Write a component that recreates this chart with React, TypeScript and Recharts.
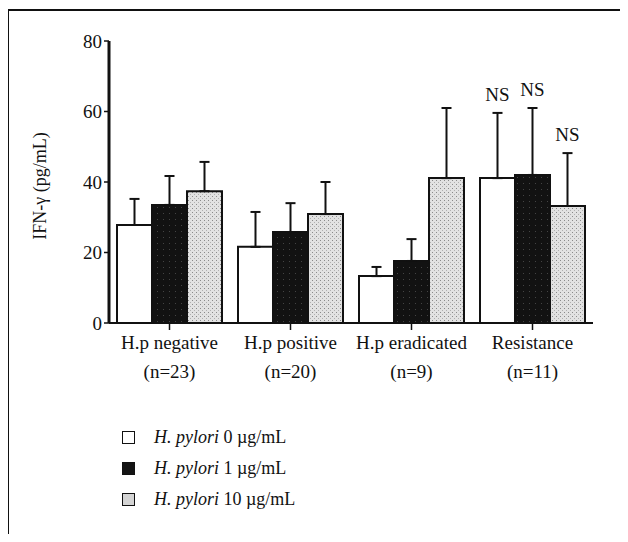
import { BarChart, Bar, XAxis, YAxis, ErrorBar, LabelList } from "recharts";

const groups = ["H.p negative", "H.p positive", "H.p eradicated", "Resistance"];
const nLabels = ["(n=23)", "(n=20)", "(n=9)", "(n=11)"];

const dose0 = [27.8, 21.6, 13.3, 41.1];
const dose0Err = [7.4, 9.9, 2.6, 18.5];
const dose1 = [33.5, 25.8, 17.6, 42.0];
const dose1Err = [8.2, 8.2, 6.2, 19.0];
const dose10 = [37.4, 30.9, 41.1, 33.2];
const dose10Err = [8.3, 9.1, 19.9, 15.0];
const nsFlags = [false, false, false, true];

const yTicks = [0, 20, 40, 60, 80];

const series = [
  { key: "d0", err: "e0", fill: "#ffffff", dose: "0", values: dose0, errs: dose0Err },
  { key: "d1", err: "e1", fill: "url(#stippleDark)", swatch: "#141414", dose: "1", values: dose1, errs: dose1Err },
  { key: "d10", err: "e10", fill: "url(#stippleLight)", swatch: "#d4d4d4", dose: "10", values: dose10, errs: dose10Err },
];

const data = groups.map((g, i) => ({
  group: g,
  d0: dose0[i],
  e0: [0, dose0Err[i]],
  d1: dose1[i],
  e1: [0, dose1Err[i]],
  d10: dose10[i],
  e10: [0, dose10Err[i]],
}));

const FONT = "'Liberation Serif', 'Times New Roman', serif";

const GroupTick = ({ x, y, payload }: any) => (
  <g>
    <text x={x} y={y} dy={17} textAnchor="middle" fontSize={19} fontFamily={FONT} fill="#111">
      {payload.value}
    </text>
    <text x={x} y={y} dy={46} textAnchor="middle" fontSize={19} fontFamily={FONT} fill="#111">
      {nLabels[payload.index]}
    </text>
  </g>
);

const nsLabel = (values: number[], errs: number[]) => (p: any) => {
  const i = p.index;
  if (!nsFlags[i]) return null;
  const pxPerUnit = p.height / values[i];
  const top = p.y - errs[i] * pxPerUnit;
  return (
    <text x={p.x + p.width / 2} y={top - 12} textAnchor="middle" fontSize={19} fontFamily={FONT} fill="#111">
      NS
    </text>
  );
};

const LegendBox = () => (
  <div style={{ fontFamily: FONT, fontSize: 18, color: "#111" }}>
    {series.map((s) => (
      <div key={s.key} style={{ display: "flex", alignItems: "center", height: 31 }}>
        <span
          style={{
            display: "inline-block",
            width: 11,
            height: 11,
            background: s.swatch ?? s.fill,
            border: "1.5px solid #111",
            marginRight: 19,
          }}
        />
        <span>
          <i>H. pylori</i> {s.dose} µg/mL
        </span>
      </div>
    ))}
  </div>
);

export default function App() {
  return (
    <div style={{ margin: -8, position: "relative", width: 628, height: 542, overflow: "hidden", background: "#fff" }}>
      <div
        style={{
          position: "absolute",
          left: 7,
          top: 9,
          width: 700,
          height: 600,
          borderLeft: "2px solid #111",
          borderTop: "2px solid #111",
        }}
      />
      <div style={{ position: "absolute", left: 0, top: 0 }}>
        <BarChart
          width={628}
          height={400}
          data={data}
          margin={{ top: 41, right: 35, left: 0, bottom: 0 }}
          barCategoryGap={8}
          barGap={0}
        >
          <defs>
            <pattern id="stippleLight" width="4" height="4" patternUnits="userSpaceOnUse">
              <rect width="4" height="4" fill="#e2e2e2" />
              <rect x="0" y="0" width="1" height="1" fill="#8a8a8a" />
              <rect x="2" y="2" width="1" height="1" fill="#b0b0b0" />
            </pattern>
            <pattern id="stippleDark" width="6" height="6" patternUnits="userSpaceOnUse">
              <rect width="6" height="6" fill="#121212" />
              <rect x="1" y="3" width="1" height="1" fill="#444" />
            </pattern>
          </defs>
          <XAxis
            dataKey="group"
            tick={<GroupTick />}
            tickSize={7}
            tickMargin={2}
            interval={0}
            height={77}
            axisLine={{ stroke: "#111", strokeWidth: 2 }}
            tickLine={{ stroke: "#111", strokeWidth: 1.5 }}
          />
          <XAxis xAxisId="top" orientation="top" dataKey="group" tick={false} tickLine={false} height={0} axisLine={{ stroke: "#111", strokeWidth: 2 }} />
          <YAxis
            domain={[0, 80]}
            ticks={yTicks}
            width={109}
            tickSize={5}
            tickMargin={2}
            tick={{ fontSize: 19, fontFamily: FONT, fill: "#111" }}
            axisLine={{ stroke: "#111", strokeWidth: 3 }}
            tickLine={{ stroke: "#111", strokeWidth: 1.5 }}
            label={{
              content: ({ viewBox }: any) => (
                <text
                  x={40}
                  y={viewBox.y + viewBox.height / 2 + 4}
                  transform={`rotate(-90 40 ${viewBox.y + viewBox.height / 2 + 4})`}
                  textAnchor="middle"
                  dominantBaseline="central"
                  fontSize={18}
                  fontFamily={FONT}
                  fill="#111"
                >
                  IFN-γ (pg/mL)
                </text>
              ),
            }}
          />
          <YAxis yAxisId="right" orientation="right" domain={[0, 80]} width={0} tick={false} tickLine={false} axisLine={{ stroke: "#111", strokeWidth: 2 }} />
          {series.map((s) => (
            <Bar key={s.key} dataKey={s.key} fill={s.fill} stroke="#111" strokeWidth={2} isAnimationActive={false}>
              <ErrorBar dataKey={s.err} width={5} stroke="#111" strokeWidth={2} direction="y" />
              <LabelList dataKey={s.key} content={nsLabel(s.values, s.errs)} />
            </Bar>
          ))}
        </BarChart>
      </div>
      <div style={{ position: "absolute", left: 122, top: 422 }}>
        <LegendBox />
      </div>
    </div>
  );
}
